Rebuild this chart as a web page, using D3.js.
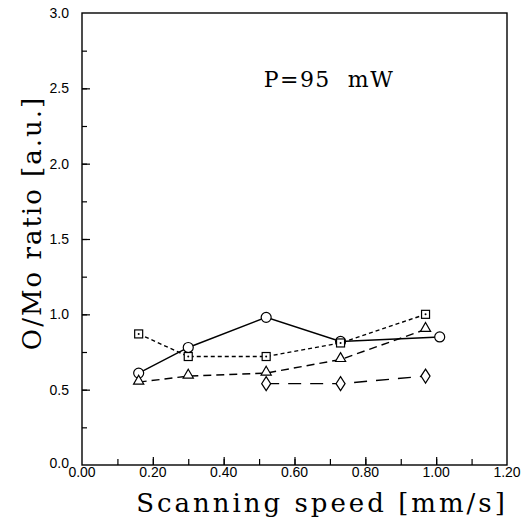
<!DOCTYPE html>
<html>
<head>
<meta charset="utf-8">
<script src="https://cdn.jsdelivr.net/npm/d3@7"></script>
<style>
body { margin: 0; background: #fff; }
</style>
</head>
<body>
<div id="chart"></div>
<script>
var circles  = [{x:0.16,y:0.61},{x:0.30,y:0.78},{x:0.52,y:0.98},{x:0.73,y:0.82},{x:1.01,y:0.85}];
var squares  = [{x:0.16,y:0.87},{x:0.30,y:0.72},{x:0.52,y:0.72},{x:0.73,y:0.81},{x:0.97,y:1.00}];
var triangles = [{x:0.16,y:0.55},{x:0.30,y:0.59},{x:0.52,y:0.61},{x:0.73,y:0.70},{x:0.97,y:0.90}];
var diamonds = [{x:0.52,y:0.54},{x:0.73,y:0.54},{x:0.97,y:0.59}];

var xTicks = [0, 0.2, 0.4, 0.6, 0.8, 1.0, 1.2];
var yTicks = [0, 0.5, 1.0, 1.5, 2.0, 2.5, 3.0];

var svg = d3.select("#chart")
    .append("svg")
    .attr("width", 532)
    .attr("height", 520);

var x = d3.scaleLinear().domain([0, 1.2]).range([82, 507]);
var y = d3.scaleLinear().domain([0, 3]).range([465, 13]);

// frame
svg.append("rect")
    .attr("x", x(0)).attr("y", y(3))
    .attr("width", x(1.2) - x(0)).attr("height", y(0) - y(3))
    .attr("fill", "none").attr("stroke", "#000").attr("stroke-width", 1.4);

// ticks pointing inward
var xMinor = d3.range(1, 12).map(function(i) { return i / 10; });
svg.append("g")
    .attr("transform", "translate(0," + y(0) + ")")
    .call(d3.axisTop(x).tickValues(xMinor).tickSize(6).tickFormat(""))
    .call(function(g) { g.select(".domain").remove(); });
svg.append("g")
    .attr("transform", "translate(0," + y(0) + ")")
    .call(d3.axisTop(x).tickValues([0.2, 0.4, 0.6, 0.8, 1.0]).tickSize(8).tickFormat(""))
    .call(function(g) { g.select(".domain").remove(); });

var yMinor = d3.range(1, 12).map(function(i) { return i / 4; });
svg.append("g")
    .attr("transform", "translate(" + x(0) + ",0)")
    .call(d3.axisRight(y).tickValues(yMinor).tickSize(5).tickFormat(""))
    .call(function(g) { g.select(".domain").remove(); });
svg.append("g")
    .attr("transform", "translate(" + x(0) + ",0)")
    .call(d3.axisRight(y).tickValues([0.5, 1, 1.5, 2, 2.5]).tickSize(8).tickFormat(""))
    .call(function(g) { g.select(".domain").remove(); });

svg.selectAll(".tick line").attr("stroke", "#000").attr("stroke-width", 1.2);

// tick labels
svg.selectAll(".xlab")
    .data(xTicks)
    .enter()
    .append("text")
    .attr("x", function(d) { return x(d); })
    .attr("y", 477)
    .attr("text-anchor", "middle")
    .style("font-family", "Liberation Sans")
    .style("font-size", "14px")
    .text(function(d) { return d.toFixed(2); });

svg.selectAll(".ylab")
    .data(yTicks)
    .enter()
    .append("text")
    .attr("x", 69)
    .attr("y", function(d) { return y(d) + 5 - (d === 0 ? 2 : 0); })
    .attr("text-anchor", "end")
    .style("font-family", "Liberation Sans")
    .style("font-size", "14px")
    .text(function(d) { return d.toFixed(1); });

// axis titles
svg.append("text")
    .attr("x", 322)
    .attr("y", 512)
    .attr("text-anchor", "middle")
    .style("font-family", "'DejaVu Serif', serif")
    .style("font-size", "26px")
    .style("letter-spacing", "3px")
    .text("Scanning speed [mm/s]");

svg.append("text")
    .attr("transform", "translate(41,223) rotate(-90)")
    .attr("text-anchor", "middle")
    .style("font-family", "'DejaVu Serif', serif")
    .style("font-size", "26px")
    .style("letter-spacing", "2px")
    .text("O/Mo ratio [a.u.]");

svg.append("text")
    .attr("x", 329)
    .attr("y", 87)
    .attr("text-anchor", "middle")
    .style("font-family", "'DejaVu Serif', serif")
    .style("font-size", "22px")
    .style("letter-spacing", "1.5px")
    .style("white-space", "pre")
    .text("P=95  mW");

// series lines
var line = d3.line()
    .x(function(d) { return x(d.x); })
    .y(function(d) { return y(d.y); });

var series = [
    {data: circles, dash: null},
    {data: squares, dash: "4,3"},
    {data: triangles, dash: "8,5"},
    {data: diamonds, dash: "13,9"}
];

series.forEach(function(s) {
    svg.append("path")
        .attr("d", line(s.data))
        .attr("fill", "none")
        .attr("stroke", "#000")
        .attr("stroke-width", 1.4)
        .attr("stroke-dasharray", s.dash);
});

// markers
svg.selectAll(".circ")
    .data(circles)
    .enter()
    .append("circle")
    .attr("cx", function(d) { return x(d.x); })
    .attr("cy", function(d) { return y(d.y); })
    .attr("r", 5)
    .attr("fill", "#fff")
    .attr("stroke", "#000")
    .attr("stroke-width", 1.2);

svg.selectAll(".sq")
    .data(squares)
    .enter()
    .append("rect")
    .attr("x", function(d) { return x(d.x) - 4; })
    .attr("y", function(d) { return y(d.y) - 4; })
    .attr("width", 8)
    .attr("height", 8)
    .attr("fill", "#fff")
    .attr("stroke", "#000")
    .attr("stroke-width", 1.2);

svg.selectAll(".sqdot")
    .data(squares)
    .enter()
    .append("circle")
    .attr("cx", function(d) { return x(d.x); })
    .attr("cy", function(d) { return y(d.y); })
    .attr("r", 1)
    .attr("fill", "#000");

var tri = d3.symbol().type(d3.symbolTriangle).size(45);
svg.selectAll(".tri")
    .data(triangles)
    .enter()
    .append("path")
    .attr("d", tri)
    .attr("transform", function(d) { return "translate(" + x(d.x) + "," + (y(d.y) - 1) + ")"; })
    .attr("fill", "#fff")
    .attr("stroke", "#000")
    .attr("stroke-width", 1.2);

svg.selectAll(".dia")
    .data(diamonds)
    .enter()
    .append("path")
    .attr("d", "M0,-7L4.5,0L0,7L-4.5,0Z")
    .attr("transform", function(d) { return "translate(" + x(d.x) + "," + y(d.y) + ")"; })
    .attr("fill", "#fff")
    .attr("stroke", "#000")
    .attr("stroke-width", 1.2);
</script>
</body>
</html>
